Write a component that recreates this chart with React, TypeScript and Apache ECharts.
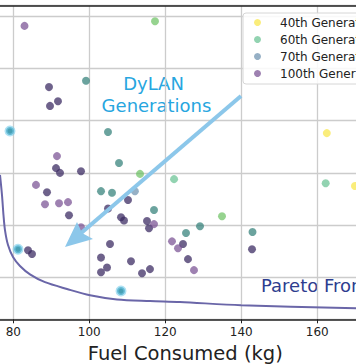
import React, { useEffect, useRef } from "react";
import * as echarts from "echarts";

// ---- data (x: fuel consumed in kg, y: unlabeled objective in plot units) ----
const gen40: number[][] = [[162.5, 3.76], [169.9, 2.75]];
const gen60: number[][] = [[122.3, 2.88], [162.2, 2.8]];
const gen70: number[][] = [[112.0, 2.65]];
const gen100: number[][] = [
  [82.95, 5.81], [91.5, 3.32], [85.97, 2.77], [88.34, 2.4], [92.03, 2.42], [94.39, 2.44],
  [97.82, 1.96], [117.03, 2.02], [121.76, 1.69], [123.34, 1.56], [127.55, 1.14],
];
const genDark: number[][] = [
  [89.39, 4.64], [91.76, 4.37], [89.66, 4.28], [91.24, 3.09], [92.29, 3.0], [97.82, 3.03],
  [88.87, 2.63], [94.66, 2.19], [104.92, 2.32], [110.18, 2.48], [108.34, 2.15], [109.13, 2.09],
  [115.18, 2.08], [115.71, 1.94], [124.66, 1.64], [125.97, 1.35], [142.82, 1.54], [83.87, 1.52],
  [84.92, 1.45], [105.45, 1.64], [103.08, 1.38], [104.66, 1.19], [103.08, 1.1], [110.97, 1.31],
  [113.87, 1.08], [115.97, 1.16],
];
const genTeal: number[][] = [
  [99.13, 4.76], [104.92, 3.78], [107.82, 3.19], [103.08, 2.65], [105.97, 2.62], [117.03, 2.29],
  [129.13, 1.98], [125.45, 1.85], [142.95, 1.87],
];
const genGreen: number[][] = [[117.29, 5.9], [113.34, 2.98], [134.92, 2.17]];
const paretoPoints: number[][] = [[79.13, 3.8], [81.24, 1.54], [108.34, 0.74]];
const paretoFront: number[][] = [
  [76.5, 2.96], [77.03, 2.57], [77.42, 2.19], [77.82, 1.9], [78.61, 1.62], [79.92, 1.39],
  [81.76, 1.22], [84.39, 1.06], [88.34, 0.91], [94.13, 0.78], [100.18, 0.66], [107.29, 0.58],
  [115.97, 0.55], [123.87, 0.53], [139.92, 0.47], [170.2, 0.41],
];
const legendNames = ["40th Generation", "60th Generation", "70th Generation", "100th Generation"];

const FONT = "DejaVu Sans";
const ARROW_COLOR = "#8cc7ea";

export default function App() {
  const ref = useRef<HTMLDivElement>(null);
  useEffect(() => {
    if (!ref.current) return;
    const chart = echarts.init(ref.current, undefined, { renderer: "svg" });
    const scatter = (name: string, data: number[][], color: string, size = 8) => ({
      name,
      type: "scatter",
      data,
      symbolSize: size,
      itemStyle: { color },
      emphasis: { disabled: true },
    });
    chart.setOption({
      animation: false,
      backgroundColor: "#ffffff",
      textStyle: { fontFamily: FONT },
      grid: {
        left: -62.7,
        right: -37.3,
        top: 5.5,
        bottom: 44.7,
        containLabel: false,
        outerBoundsMode: "none",
      },
      legend: {
        data: legendNames,
        orient: "vertical",
        left: 243,
        top: 13,
        padding: [3, 0, 4, 11],
        itemWidth: 7,
        itemHeight: 7,
        itemGap: 4,
        icon: "circle",
        backgroundColor: "rgba(255,255,255,0.85)",
        borderColor: "#d6d6d6",
        borderWidth: 1,
        borderRadius: 3,
        textStyle: { fontFamily: FONT, fontSize: 12, color: "#222", lineHeight: 13, padding: [0, 0, 0, 14] },
      },
      xAxis: [
        {
          type: "value",
          min: 60,
          max: 180,
          interval: 20,
          position: "bottom",
          name: "Fuel Consumed (kg)",
          nameLocation: "middle",
          nameGap: 22,
          nameTextStyle: { fontFamily: FONT, fontSize: 19.5, color: "#222", padding: [0, 0, 0, 40] },
          axisLine: { show: true, onZero: false, lineStyle: { color: "#222", width: 1.5 } },
          axisTick: { show: true, length: 4, lineStyle: { color: "#222" } },
          axisLabel: { fontFamily: FONT, fontSize: 12, color: "#222", margin: 7, showMinLabel: false, showMaxLabel: false },
          splitLine: { show: true, lineStyle: { color: "#cccccc", width: 1.3 } },
        },
        {
          type: "value",
          min: 60,
          max: 180,
          position: "top",
          axisLine: { show: true, onZero: false, lineStyle: { color: "#222", width: 1.5 } },
          axisTick: { show: false },
          axisLabel: { show: false },
          splitLine: { show: false },
        },
      ],
      yAxis: {
        type: "value",
        min: 0.2,
        max: 6.2,
        axisLine: { show: false },
        axisTick: { show: false },
        axisLabel: { show: false },
        splitLine: { show: true, lineStyle: { color: "#cccccc", width: 1.3 } },
      },
      graphic: [
        {
          type: "line",
          shape: { x1: 241, y1: 96, x2: 80, y2: 234 },
          style: { stroke: ARROW_COLOR, lineWidth: 4 },
          z: 50,
        },
        {
          type: "polygon",
          shape: { points: [[65, 247], [77, 222], [82, 233], [93, 239]] },
          style: { fill: ARROW_COLOR },
          z: 50,
        },
        {
          type: "text",
          x: 153.5,
          y: 83,
          style: { text: "DyLAN", fill: "#27a6df", fontFamily: FONT, fontSize: 18, align: "center", verticalAlign: "middle" },
        },
        {
          type: "text",
          x: 156.5,
          y: 105,
          style: { text: "Generations", fill: "#27a6df", fontFamily: FONT, fontSize: 18, align: "center", verticalAlign: "middle" },
        },
        {
          type: "text",
          x: 261,
          y: 285,
          style: { text: "Pareto Front", fill: "#2e3d8f", fontFamily: FONT, fontSize: 18, align: "left", verticalAlign: "middle" },
        },
      ],
      series: [
        {
          name: "front",
          type: "line",
          data: paretoFront,
          smooth: 0.3,
          symbol: "none",
          lineStyle: { color: "#6a66a8", width: 2 },
          emphasis: { disabled: true },
          z: 1,
        },
        scatter("dark", genDark, "rgba(59,42,98,0.92)"),
        scatter(legendNames[3], gen100, "rgba(112,70,140,0.85)"),
        scatter("teal", genTeal, "rgba(45,125,118,0.88)"),
        scatter("green", genGreen, "rgba(100,190,90,0.85)"),
        scatter(legendNames[2], gen70, "rgba(110,145,175,0.9)"),
        scatter(legendNames[1], gen60, "rgba(95,190,140,0.85)"),
        scatter(legendNames[0], gen40, "rgba(248,228,60,0.85)"),
        {
          name: "pareto",
          type: "scatter",
          data: paretoPoints,
          symbolSize: 8,
          itemStyle: { color: "#1a88a2", borderColor: "rgba(120,205,235,0.75)", borderWidth: 3 },
          emphasis: { disabled: true },
        },
      ],
    });
    return () => chart.dispose();
  }, []);
  return <div ref={ref} style={{ position: "absolute", left: 0, top: 0, width: 356, height: 364 }} />;
}
